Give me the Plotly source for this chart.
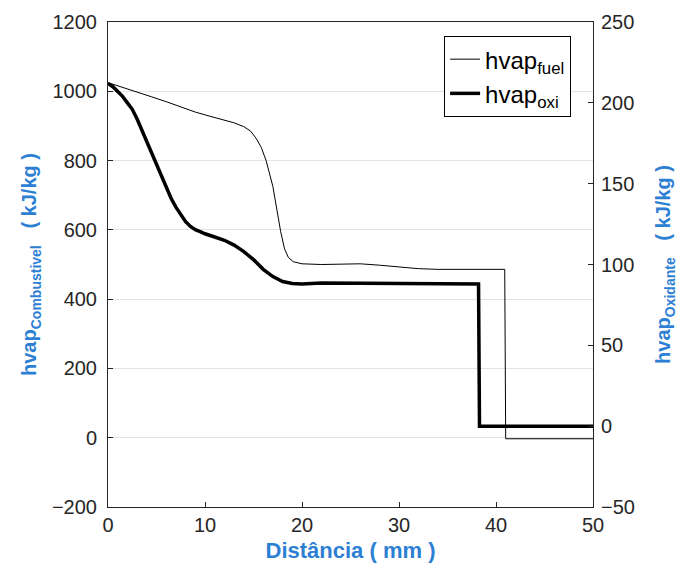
import plotly.graph_objects as go

# Data
distance_fuel = [0, 1.5, 3, 4.5, 6, 7.5, 9, 10.5, 12, 13, 14, 14.7, 15.3, 15.8, 16.3, 16.7, 17.0, 17.4, 17.8, 18.2, 18.6, 19.1, 20, 22, 24, 26, 28, 30, 32, 34, 36, 38, 40.9, 41.0, 42, 46, 50]
hvap_fuel = [1025, 1012, 998, 984, 970, 955, 940, 928, 917, 909, 898, 885, 863, 838, 800, 760, 725, 660, 595, 545, 520, 508, 502, 500, 502, 502, 498, 493, 488, 486, 486, 486, 486, -3, -3, -3, -3]

distance_oxi = [0, 0.5, 1, 1.5, 2, 2.5, 3, 3.5, 4, 4.5, 5, 5.5, 6, 6.5, 7, 7.5, 8, 8.5, 9, 9.5, 10, 11, 12, 13, 14, 15, 16, 17, 18, 19, 20, 22, 25, 28, 31, 34, 36, 38.2, 38.3, 40, 45, 50]
hvap_oxi = [212, 210, 207, 204, 200, 196, 190, 183, 176, 168, 161, 154, 147, 141, 135.5, 130.5, 126.5, 123.5, 121.5, 120.3, 119, 117, 115, 112, 108, 103, 97, 92.5, 89.5, 88.3, 88, 88.5, 88.5, 88.3, 88.3, 88.3, 88.3, 88, 0, 0, 0, 0]

left_ticks = [-200, 0, 200, 400, 600, 800, 1000, 1200]
right_ticks = [-50, 0, 50, 100, 150, 200, 250]
x_ticks = [0, 10, 20, 30, 40, 50]

BLUE = "rgb(45,127,212)"
TICKC = "#262626"
FONT = "Liberation Sans, Arial, sans-serif"

fig = go.Figure()
fig.add_trace(go.Scatter(x=distance_fuel, y=hvap_fuel, mode="lines",
                         line=dict(color="black", width=1),
                         name="hvap<sub>fuel</sub>", yaxis="y"))
fig.add_trace(go.Scatter(x=distance_oxi, y=hvap_oxi, mode="lines",
                         line=dict(color="black", width=3.5),
                         name="hvap<sub>oxi</sub>", yaxis="y2"))

fig.update_layout(
    width=684, height=575,
    margin=dict(l=108, r=91, t=22, b=68),
    paper_bgcolor="white", plot_bgcolor="white",
    font=dict(family=FONT, size=20, color=TICKC),
    showlegend=True,
    legend=dict(x=0.693, y=0.971, xanchor="left", yanchor="top",
                bgcolor="white", bordercolor="black", borderwidth=1,
                font=dict(size=24, color="black"),
                tracegroupgap=0),
    xaxis=dict(range=[0, 50], tickvals=x_ticks, ticks="inside", ticklen=5,
               tickcolor="#262626", showline=True, linecolor="#262626", linewidth=1,
               mirror=True, showgrid=False, zeroline=False,
               tickfont=dict(size=20, color=TICKC),
               title=dict(text="<b>Distância ( mm )</b>",
                          font=dict(size=22, color=BLUE),
                          standoff=7)),
    yaxis=dict(range=[-200, 1200], tickvals=left_ticks, ticks="inside", ticklen=5,
               tickcolor="#262626", showline=True, linecolor="#262626", linewidth=1,
               showgrid=True, gridcolor="#e3e3e3", gridwidth=1, zeroline=False,
               tickfont=dict(size=20, color=TICKC), ticklabelstandoff=6,
               title=dict(text="<b>hvap<sub>Combustivel</sub>\u00a0\u00a0\u00a0( kJ/kg )</b>",
                          font=dict(size=20, color=BLUE), standoff=9)),
    yaxis2=dict(range=[-50, 250], tickvals=right_ticks, ticks="inside", ticklen=5,
                tickcolor="#262626", showline=True, linecolor="#262626", linewidth=1,
                overlaying="y", side="right", showgrid=False, zeroline=False,
                tickfont=dict(size=20, color=TICKC), ticklabelstandoff=3,
                title=dict(text="<b>hvap<sub>Oxidante</sub>\u00a0\u00a0\u00a0( kJ/kg )</b>",
                           font=dict(size=20, color=BLUE), standoff=22)),
)

fig.write_html("out.html")
